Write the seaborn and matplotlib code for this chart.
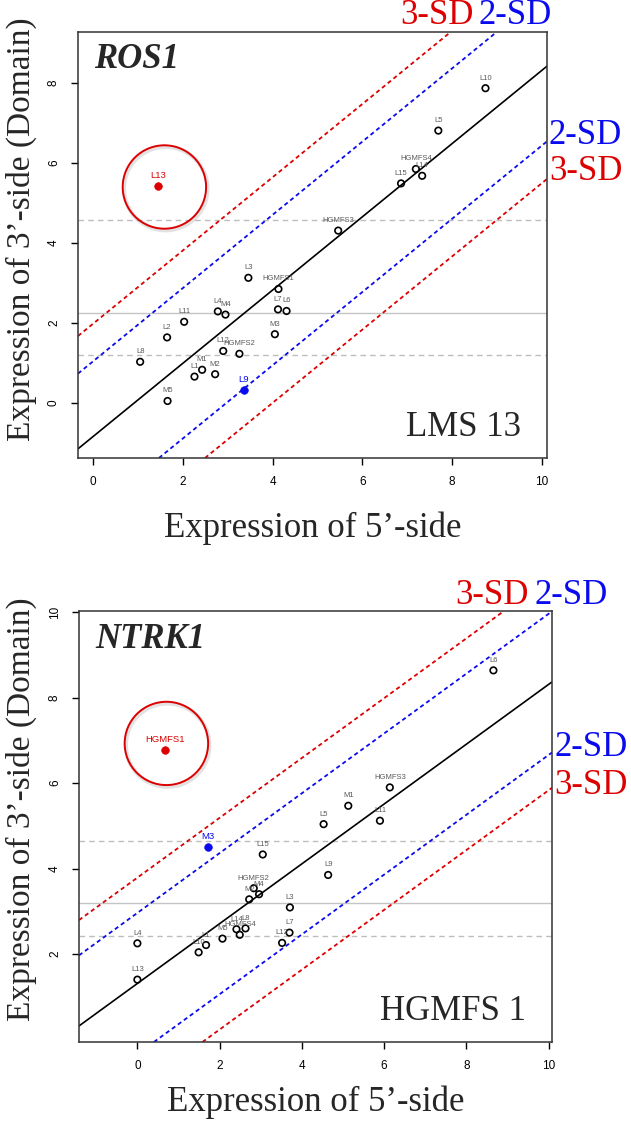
import numpy as np
import pandas as pd
import seaborn as sns
import matplotlib
matplotlib.use("Agg")
import matplotlib.pyplot as plt
from matplotlib.patches import Ellipse

# ---------------- data ----------------
ros1_names = ["L1", "L2", "L3", "L4", "L5", "L6", "L7", "L8", "L9", "L10", "L11", "L12",
              "L13", "L14", "L15", "M1", "M2", "M3", "M4", "M5",
              "HGMFS1", "HGMFS2", "HGMFS3", "HGMFS4"]
ros1_x = [2.26, 1.65, 3.46, 2.78, 7.69, 4.31, 4.12, 1.05, 3.36, 8.74, 2.03, 2.90,
          1.455, 7.33, 6.86, 2.43, 2.72, 4.05, 2.95, 1.66,
          4.13, 3.26, 5.46, 7.19]
ros1_y = [0.66, 1.64, 3.13, 2.29, 6.81, 2.30, 2.34, 1.03, 0.33, 7.87, 2.03, 1.30,
          5.42, 5.68, 5.49, 0.83, 0.72, 1.72, 2.21, 0.05,
          2.85, 1.23, 4.31, 5.85]
ros1_red = "L13"
ros1_blue = "L9"
ros1_fit = (-0.84, 0.916)      # intercept, slope
ros1_sd = 0.94
ros1_mid = 2.25
ros1_band = [4.58, 1.19]

ntrk1_names = ["L1", "L3", "L4", "L5", "L6", "L7", "L8", "L9", "L10", "L11", "L12",
               "L13", "L14", "L15", "M1", "M2", "M3", "M4", "M5",
               "HGMFS1", "HGMFS2", "HGMFS3", "HGMFS4"]
ntrk1_x = [1.67, 3.71, 0.00, 4.53, 8.66, 3.70, 2.63, 4.64, 1.49, 5.90, 3.52,
           0.00, 2.41, 3.05, 5.13, 2.72, 1.72, 2.96, 2.07,
           0.66, 2.83, 6.14, 2.49]
ntrk1_y = [2.21, 3.09, 2.25, 5.04, 8.64, 2.50, 2.60, 3.85, 2.04, 5.12, 2.26,
           1.40, 2.58, 4.33, 5.47, 3.28, 4.50, 3.40, 2.36,
           6.78, 3.54, 5.90, 2.45]
ntrk1_red = "HGMFS1"
ntrk1_blue = "M3"
ntrk1_fit = (1.31, 0.70)
ntrk1_sd = 0.826
ntrk1_mid = 3.19
ntrk1_band = [4.65, 2.43]

RED = "#dd0000"
BLUE = "#0a0aee"
SERIF = ["Liberation Serif", "DejaVu Serif"]

sns.set_style("white")
plt.rcParams["font.family"] = ["Liberation Sans", "DejaVu Sans"]

W, H = 631, 1122
fig = plt.figure(figsize=(W / 100, H / 100), dpi=100)
ax1 = fig.add_axes([78 / W, (H - 458) / H, 469 / W, 426 / H])
ax2 = fig.add_axes([79 / W, (H - 1042) / H, 473 / W, 431 / H])


def panel(ax, names, xs, ys, red, blue, fit, sd, mid, band, xlim, ylim, yticks,
          gene, sample, circle, ylab_y, xlab_y):
    df = pd.DataFrame({"name": names, "x": xs, "y": ys})
    df["kind"] = np.where(df["name"] == red, "red",
                          np.where(df["name"] == blue, "blue", "normal"))
    ax.set_xlim(*xlim)
    ax.set_ylim(*ylim)

    ax.axhline(mid, color="#c4c4c4", lw=1.0, zorder=1)
    for h in band:
        ax.axhline(h, color="#bdbdbd", lw=1.0, ls=(0, (4, 3)), zorder=1)

    a, b = fit
    ax.axline((0, a), slope=b, color="black", lw=1.2, zorder=2)
    for k, col in [(2, BLUE), (3, RED)]:
        for s in (1, -1):
            ax.axline((0, a + s * k * sd), slope=b, color=col, lw=1.3,
                      ls=(0, (2.3, 1.8)), zorder=2)

    normal = df[df["kind"] == "normal"]
    sns.scatterplot(data=normal, x="x", y="y", ax=ax, s=22, marker="o",
                    facecolor="none", edgecolor="black", linewidth=1.2,
                    legend=False, zorder=4)
    coll = ax.collections[-1]
    coll.set_facecolor("none")
    coll.set_edgecolor("black")
    coll.set_linewidth(1.2)
    for kind, col in [("red", RED), ("blue", BLUE)]:
        sub = df[df["kind"] == kind]
        sns.scatterplot(data=sub, x="x", y="y", ax=ax, s=30, marker="o",
                        color=col, edgecolor=col, linewidth=0.5,
                        legend=False, zorder=5)

    for _, r in df.iterrows():
        if r["kind"] == "normal":
            ax.annotate(r["name"], (r["x"], r["y"]), xytext=(0, 7.2),
                        textcoords="offset points", ha="center", va="center",
                        fontsize=5.5, color="#5a5a5a", zorder=6)
        else:
            col = RED if r["kind"] == "red" else BLUE
            ax.annotate(r["name"], (r["x"], r["y"]), xytext=(0, 7.6),
                        textcoords="offset points", ha="center", va="center",
                        fontsize=6.8, color=col, zorder=6)

    (cx, cy, cw, chh) = circle
    ax.add_patch(Ellipse((cx + 0.03, cy - 0.04), cw, chh, fill=False,
                         ec="#9a9a9a", lw=3.0, alpha=0.28, zorder=3))
    ax.add_patch(Ellipse((cx, cy), cw, chh, fill=False, ec=RED, lw=1.4, zorder=3))

    ax.text(0.034, 0.935, gene, transform=ax.transAxes, family=SERIF,
            fontweight="bold", fontstyle="italic", fontsize=25,
            ha="left", va="center")
    ax.text(0.944, 0.052, sample, transform=ax.transAxes, family=SERIF,
            fontsize=25, ha="right", va="baseline")

    ax.set_xticks([0, 2, 4, 6, 8, 10])
    ax.set_yticks(yticks)
    ax.tick_params(direction="out", length=5, width=1, labelsize=8.5,
                   colors="black", pad=8, bottom=True, left=True)
    for lab in ax.get_yticklabels():
        lab.set_rotation(90)
        lab.set_va("center")
    for sp in ax.spines.values():
        sp.set_visible(True)
        sp.set_color("#333333")
        sp.set_linewidth(1.1)

    ax.set_xlabel("Expression of 5\u2019-side", family=SERIF, fontsize=25)
    ax.set_ylabel("Expression of 3\u2019-side (Domain)", family=SERIF, fontsize=24)
    ax.yaxis.set_label_coords(-0.088, ylab_y)
    ax.xaxis.set_label_coords(0.5, xlab_y)


panel(ax1, ros1_names, ros1_x, ros1_y, ros1_red, ros1_blue, ros1_fit, ros1_sd,
      ros1_mid, ros1_band, (-0.334, 10.11), (-1.375, 9.275), [0, 2, 4, 6, 8],
      "ROS1", "LMS 13", (1.59, 5.40, 1.857, 2.085), 0.537, -0.125)
panel(ax2, ntrk1_names, ntrk1_x, ntrk1_y, ntrk1_red, ntrk1_blue, ntrk1_fit, ntrk1_sd,
      ntrk1_mid, ntrk1_band, (-1.42, 10.085), (-0.06, 10.03), [2, 4, 6, 8, 10],
      "NTRK1", "HGMFS 1", (0.706, 6.93, 2.03, 1.95), 0.54, -0.10)


def sd_text(x, y, s, col, ha):
    fig.text(x / W, 1 - y / H, s, color=col, family=SERIF, fontsize=25,
             ha=ha, va="center")


# top panel SD labels
sd_text(474, 16, "3-SD", RED, "right")
sd_text(478, 16, "2-SD", BLUE, "left")
sd_text(549, 136, "2-SD", BLUE, "left")
sd_text(549, 172, "3-SD", RED, "left")
# bottom panel SD labels
sd_text(529, 595, "3-SD", RED, "right")
sd_text(535, 595, "2-SD", BLUE, "left")
sd_text(554, 748, "2-SD", BLUE, "left")
sd_text(554, 785, "3-SD", RED, "left")

fig.savefig("out.png", dpi=100, facecolor="white")
